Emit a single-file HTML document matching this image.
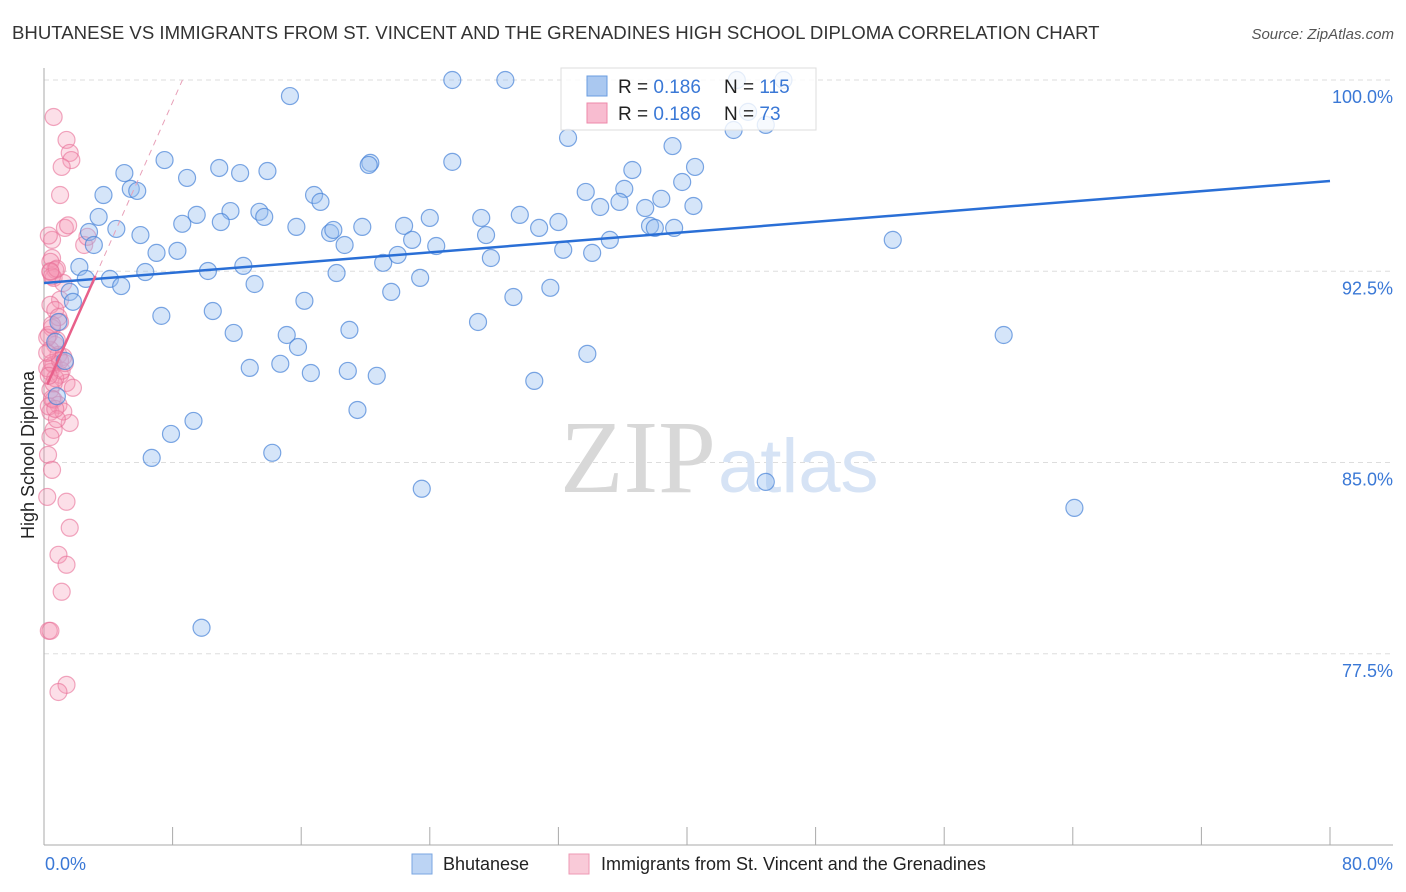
<!DOCTYPE html>
<html><head><meta charset="utf-8"><style>
body{margin:0;background:#fff;font-family:"Liberation Sans",sans-serif;}
#wrap{position:relative;width:1406px;height:892px;overflow:hidden;}
</style></head><body>
<div id="wrap">
<svg id="svg" width="1406" height="892" xmlns="http://www.w3.org/2000/svg">
<text x="12" y="39" font-size="18.6" fill="#333">BHUTANESE VS IMMIGRANTS FROM ST. VINCENT AND THE GRENADINES HIGH SCHOOL DIPLOMA CORRELATION CHART</text>
<text x="1394" y="39" font-size="15" fill="#555" text-anchor="end" font-style="italic">Source: ZipAtlas.com</text>
<text transform="translate(34,455) rotate(-90)" font-size="18" fill="#222" text-anchor="middle">High School Diploma</text>
<g id="grid"></g>
<text x="716" y="492" font-size="104" fill="#d8d8d8" text-anchor="end" font-family="Liberation Serif,serif">ZIP</text>
<text x="718" y="492" font-size="76" fill="#d6e3f5">atlas</text>
<g id="marks"></g>
<g>
<rect x="561" y="68" width="255" height="62" fill="rgba(255,255,255,0.8)" stroke="#ddd"/>
<rect x="587" y="76" width="20" height="20" fill="#aac8f0" stroke="#6a9de0"/>
<text x="618" y="93" font-size="19" fill="#222">R = <tspan fill="#3a78d6">0.186</tspan></text>
<text x="724" y="93" font-size="19" fill="#222">N = <tspan fill="#3a78d6">115</tspan></text>
<rect x="587" y="103" width="20" height="20" fill="#f8bcd0" stroke="#ee88aa"/>
<text x="618" y="120" font-size="19" fill="#222">R = <tspan fill="#3a78d6">0.186</tspan></text>
<text x="724" y="120" font-size="19" fill="#222">N = <tspan fill="#3a78d6">73</tspan></text>
</g>
<g>
<rect x="412" y="854" width="20" height="20" fill="#bcd4f4" stroke="#7aa6e2"/>
<text x="443" y="870" font-size="18" fill="#222">Bhutanese</text>
<rect x="569" y="854" width="20" height="20" fill="#f9cad8" stroke="#ee99b4"/>
<text x="601" y="870" font-size="18" fill="#222">Immigrants from St. Vincent and the Grenadines</text>
</g>
</svg>
</div>
<script>
const yTicks=[100,92.5,85,77.5];
const yTickLabels=["100.0%","92.5%","85.0%","77.5%"];
const xTickLabels=["0.0%","80.0%"];
const blueX=[15.3,25.4,28.7,43.1,46.0,43.8,42.9,44.9,32.6,39.1,7.5,20.3,20.2,25.4,40.5,36.6,5.0,10.9,12.2,13.9,8.9,39.7,3.7,5.4,5.8,16.8,17.2,33.7,36.1,38.4,34.6,37.4,40.4,35.8,3.4,9.5,11.6,11.0,13.4,13.7,8.6,19.8,24.0,27.2,29.6,32.0,30.8,37.7,38.0,39.2,2.8,4.5,6.0,15.7,17.8,18.0,22.4,3.1,7.0,8.3,18.7,22.9,24.4,27.5,32.3,34.1,35.2,52.8,4.1,2.2,6.3,10.2,12.4,21.1,22.0,27.8,4.8,13.1,18.2,23.4,21.6,29.2,31.5,1.6,1.8,16.2,7.3,10.5,27.0,0.9,11.8,15.1,19.0,59.7,0.7,15.8,33.8,1.3,12.8,14.7,16.6,18.9,20.7,30.5,19.5,9.3,7.9,6.7,14.2,23.5,44.9,64.1,9.8,0.8,2.6];
const blueY=[99.37,100,100,100,100,98.75,98.04,98.24,97.73,97.41,96.86,96.75,96.67,96.79,96.59,96.47,96.35,96.55,96.35,96.43,96.16,96.0,95.49,95.73,95.65,95.49,95.22,95.61,95.73,95.34,95.02,94.98,95.06,95.22,94.63,94.71,94.86,94.43,94.83,94.63,94.36,94.24,94.59,94.59,94.71,94.43,94.2,94.28,94.2,94.2,94.04,94.16,93.92,94.24,94.0,94.12,94.28,93.53,93.22,93.3,93.53,93.73,93.49,93.92,93.34,93.22,93.73,93.73,92.2,92.67,92.47,92.51,92.71,92.83,93.14,93.02,91.92,92.0,92.43,92.24,91.69,91.49,91.85,91.69,91.3,91.34,90.75,90.94,90.51,90.51,90.08,90.0,90.2,90.0,89.73,89.53,89.26,88.98,88.71,88.87,88.51,88.59,88.4,88.2,87.06,86.63,86.12,85.18,85.38,83.97,84.24,83.22,78.52,87.6,92.2];
const pinkX=[0.6,1.4,1.6,1.7,1.1,1.0,1.3,0.5,0.5,0.4,0.7,0.6,0.4,2.5,2.7,1.2,1.0,0.4,0.7,1.0,0.5,0.7,0.4,0.9,1.2,0.6,0.4,1.0,1.4,1.8,0.4,0.6,0.9,0.4,1.6,0.6,0.4,0.25,0.5,0.2,1.4,1.6,0.9,1.4,1.1,0.3,0.4,1.4,0.9,0.3,0.8,0.5,0.2,0.7,1.1,0.3,1.2,0.5,0.8,0.3,1.5,0.2,0.9,0.6,1.0,0.3,0.5,0.8,0.2,0.4,1.3,0.7,0.5];
const pinkY=[98.55,97.65,97.14,96.86,96.59,95.49,94.2,93.73,93.02,92.87,92.55,92.24,92.47,93.53,93.85,92.04,91.38,91.18,90.98,90.51,90.28,89.61,89.42,89.22,89.14,88.83,88.55,88.44,88.12,87.93,87.85,87.46,87.26,86.99,86.55,86.28,86.0,85.3,84.71,83.65,83.46,82.44,81.38,80.99,79.93,78.4,78.4,76.28,76.0,90.0,89.8,88.9,88.7,88.3,88.6,87.2,87.0,92.3,92.6,93.9,94.3,89.9,90.7,88.1,89.0,88.4,87.5,86.7,89.3,92.5,88.9,87.1,90.4];
const blueTrend=[92.04,96.04];
const pinkTrend=[87.77,1.42];
const X0=44,X1=1330,Y0=80,Y1=845;
const sx=v=>X0+v*(X1-X0)/80;
const sy=v=>Y0+(100-v)*(Y1-Y0)/30;
const NS="http://www.w3.org/2000/svg";
function mk(t,a,p){const e=document.createElementNS(NS,t);for(const k in a)e.setAttribute(k,a[k]);p.appendChild(e);return e;}
const g=document.getElementById('grid'),m=document.getElementById('marks');
yTicks.forEach((t,i)=>{
 const l=mk('line',{x1:X0,x2:1393,y1:sy(t),y2:sy(t),stroke:'#ddd','stroke-dasharray':'5,4'},g);
 
 
 const tx=mk('text',{x:1393,y:sy(t)+23,'font-size':18,fill:'#3a78d6','text-anchor':'end'},g);
 tx.textContent=yTickLabels[i];
 
 
});
const ax=mk('line',{x1:X0,x2:X0,y1:68,y2:Y1,stroke:'#aaa'},g);


const bx=mk('line',{x1:X0,x2:1393,y1:Y1,y2:Y1,stroke:'#aaa'},g);


for(let i=1;i<=10;i++){const t=mk('line',{x1:sx(i*8),x2:sx(i*8),y1:827,y2:Y1,stroke:'#aaa'},g);
 
 }
[[0,'start',45],[80,'end',1393]].forEach((d,i)=>{const t=mk('text',{x:d[2],y:870,'font-size':18,fill:'#3a78d6','text-anchor':d[1]},g);t.textContent=xTickLabels[i];
 
 });
pinkX.forEach((x,i)=>{const c=mk('circle',{cx:sx(x),cy:sy(pinkY[i]),r:8.5,fill:'rgba(244,150,180,0.3)',stroke:'rgba(232,110,150,0.6)','stroke-width':1.2},m);
 
 });
blueX.forEach((x,i)=>{const c=mk('circle',{cx:sx(x),cy:sy(blueY[i]),r:8.5,fill:'rgba(150,190,240,0.4)',stroke:'rgba(70,130,215,0.7)','stroke-width':1.2},m);
 
 });
const bl=mk('line',{x1:sx(0),y1:sy(blueTrend[0]),x2:sx(80),y2:sy(blueTrend[1]),stroke:'#2a6fd6','stroke-width':2.5},m);


const xe=(100-pinkTrend[0])/pinkTrend[1];
const pd=mk('line',{x1:sx(3.2),y1:sy(pinkTrend[0]+pinkTrend[1]*3.2),x2:sx(xe),y2:sy(100),stroke:'#e8a0b8','stroke-width':1,'stroke-dasharray':'6,5'},m);


const pl=mk('line',{x1:sx(0.2),y1:sy(pinkTrend[0]+pinkTrend[1]*0.2),x2:sx(3.2),y2:sy(pinkTrend[0]+pinkTrend[1]*3.2),stroke:'#e8608a','stroke-width':2.5},m);


</script>
</body></html>
